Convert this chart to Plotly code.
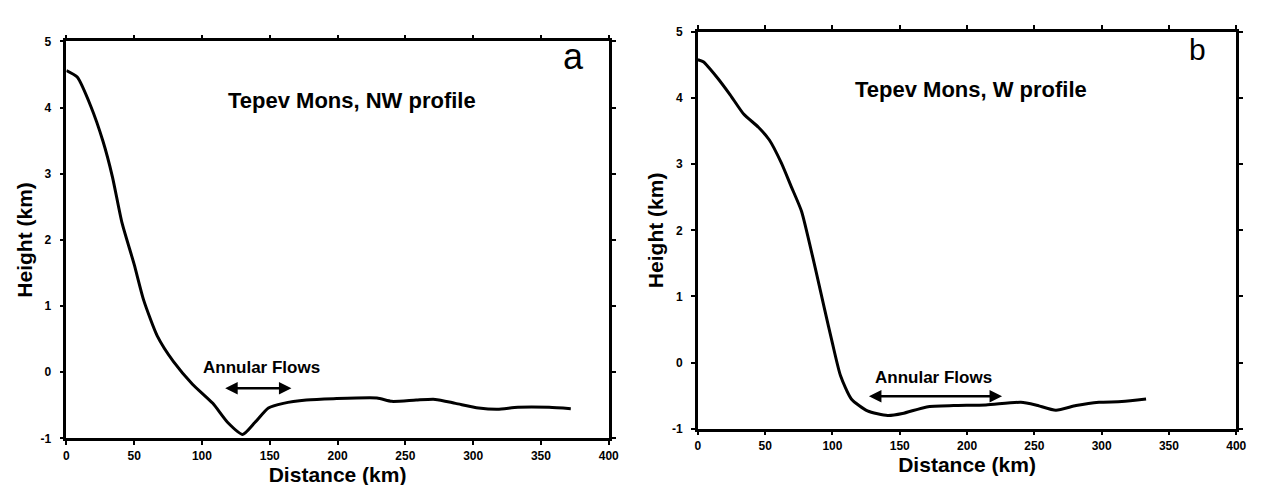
import plotly.graph_objects as go
from plotly.subplots import make_subplots

# NW profile (panel a)
nw_distance = [0, 8, 18, 27, 34, 41, 50, 57, 67, 79, 93, 108, 119, 130, 139, 149, 160, 177, 197, 229, 240, 258, 272, 287, 304, 318, 333, 356, 372]
nw_height = [4.56, 4.46, 4.02, 3.49, 2.95, 2.26, 1.63, 1.09, 0.55, 0.16, -0.18, -0.47, -0.76, -0.94, -0.76, -0.54, -0.47, -0.42, -0.40, -0.39, -0.44, -0.42, -0.41, -0.47, -0.54, -0.56, -0.53, -0.53, -0.55]

# W profile (panel b)
w_distance = [0, 4, 14, 24, 34, 45, 53, 62, 69, 77, 83, 88, 94, 100, 106, 114, 126, 141, 152, 170, 190, 214, 240, 251, 266, 281, 298, 315, 333]
w_height = [4.58, 4.55, 4.32, 4.05, 3.76, 3.56, 3.37, 3.02, 2.68, 2.29, 1.80, 1.36, 0.82, 0.29, -0.20, -0.55, -0.73, -0.80, -0.77, -0.67, -0.65, -0.64, -0.60, -0.64, -0.72, -0.65, -0.60, -0.59, -0.55]

x_ticks = [0, 50, 100, 150, 200, 250, 300, 350, 400]
x_tick_labels = ["0", "50", "100", "150", "200", "250", "300", "350", "400"]
y_ticks = [-1, 0, 1, 2, 3, 4, 5]
y_tick_labels = ["-1", "0", "1", "2", "3", "4", "5"]

titles = ["Tepev Mons, NW profile", "Tepev Mons, W profile"]
letters = ["a", "b"]
arrow_a = [116, 166, -0.24]
arrow_b = [126, 226, -0.51]

FONT = "Liberation Sans"

fig = make_subplots(rows=1, cols=2)
fig.add_trace(go.Scatter(x=nw_distance, y=nw_height, mode="lines", line=dict(color="black", width=3, shape="spline", smoothing=0.6), showlegend=False), row=1, col=1)
fig.add_trace(go.Scatter(x=w_distance, y=w_height, mode="lines", line=dict(color="black", width=3, shape="spline", smoothing=0.6), showlegend=False), row=1, col=2)

axis_common = dict(showgrid=False, zeroline=False, showline=True, linecolor="black", linewidth=2.5,
                   mirror="ticks", ticks="outside", ticklen=4, tickwidth=2, tickcolor="black",
                   tickfont=dict(family=FONT, size=12, color="black", weight="bold"))

fig.update_xaxes(**axis_common, range=[0, 400], tickvals=x_ticks, ticktext=x_tick_labels,
                 title=dict(text="Distance (km)", font=dict(family=FONT, size=21, color="black", weight="bold"), standoff=6))
fig.update_yaxes(**axis_common, range=[-1, 5], tickvals=y_ticks, ticktext=y_tick_labels, ticklabelstandoff=6,
                 title=dict(text="Height (km)", font=dict(family=FONT, size=21, color="black", weight="bold"), standoff=3))

fig.update_layout(
    width=1263, height=485,
    margin=dict(l=0, r=0, t=0, b=0),
    paper_bgcolor="white", plot_bgcolor="white",
    xaxis=dict(domain=[0.0443, 0.4782]),
    yaxis=dict(domain=[0.101, 0.944]),
    xaxis2=dict(domain=[0.5495, 0.9802]),
    yaxis2=dict(domain=[0.1216, 0.9639]),
)

anns = []
for i, (xr, yr) in enumerate([("x", "y"), ("x2", "y2")]):
    anns.append(dict(x=[211, 203][i], y=[4.11, 4.13][i], xref=xr, yref=yr, text=titles[i], showarrow=False,
                     font=dict(family=FONT, size=22, color="black", weight="bold")))
    anns.append(dict(x=[374, 371][i], y=[4.77, 4.73][i], xref=xr, yref=yr, text=letters[i], showarrow=False,
                     font=dict(family=FONT, size=[36, 30][i], color="black")))
    arr = [arrow_a, arrow_b][i]
    anns.append(dict(x=[144, 175][i], y=[0.07, -0.22][i], xref=xr, yref=yr, text="Annular Flows", showarrow=False,
                     font=dict(family=FONT, size=17, color="black", weight="bold")))
    anns.append(dict(x=arr[1], y=arr[2], ax=arr[0], ay=arr[2], xref=xr, yref=yr, axref=xr, ayref=yr, text="",
                     showarrow=True, arrowhead=2, arrowside="end+start", arrowwidth=2.5, arrowsize=1.0, arrowcolor="black"))
fig.update_layout(annotations=anns)

fig.write_html("out.html")
